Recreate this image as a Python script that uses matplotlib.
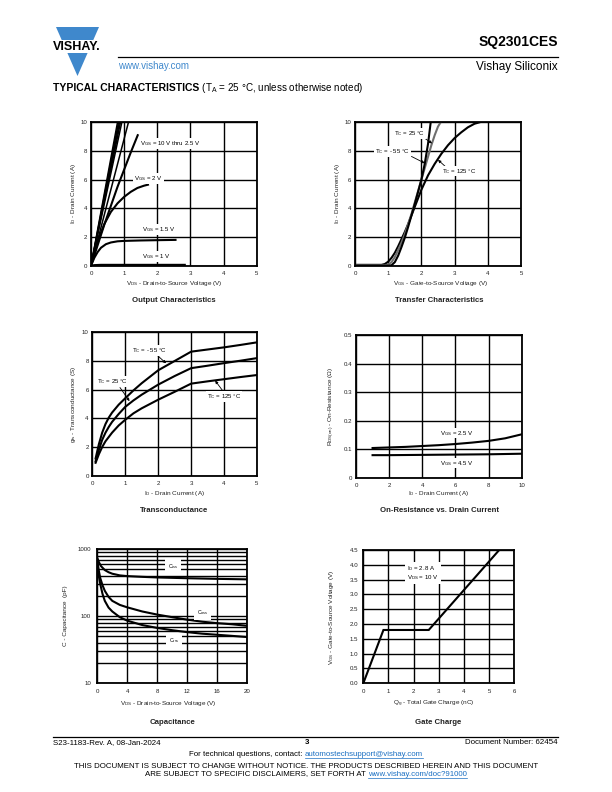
import matplotlib
matplotlib.use('Agg')
import matplotlib.pyplot as plt
from matplotlib.patches import Polygon, Rectangle
from matplotlib.lines import Line2D

plt.rcParams['font.family'] = ['Liberation Sans', 'DejaVu Sans']
plt.rcParams['mathtext.fontset'] = 'custom'
plt.rcParams['mathtext.rm'] = 'Liberation Sans'
plt.rcParams['mathtext.it'] = 'Liberation Sans:italic'
plt.rcParams['mathtext.bf'] = 'Liberation Sans:bold'
plt.rcParams['mathtext.default'] = 'regular'

# ---------------- data ----------------
# Output characteristics (VDS, ID)
out_bundle_end_x = [0.80, 0.83, 0.86, 0.89, 0.93, 1.13]   # VGS 10 V ... 3 V reach 10 A
out_bundle_end_y = [10, 10, 10, 10, 10, 10]
out_v25_x = [0, 0.4, 0.8, 1.2, 1.41]
out_v25_y = [0, 2.85, 5.5, 7.9, 9.1]
out_v2_x = [0, 0.1, 0.2, 0.4, 0.6, 0.8, 1.0, 1.2, 1.4, 1.6, 1.72]
out_v2_y = [0, 0.9, 1.7, 2.9, 3.75, 4.35, 4.8, 5.15, 5.42, 5.58, 5.65]
out_v15_x = [0, 0.1, 0.2, 0.3, 0.45, 0.6, 0.8, 1.0, 1.5, 2.0, 2.55]
out_v15_y = [0, 0.55, 0.95, 1.25, 1.5, 1.62, 1.7, 1.73, 1.76, 1.78, 1.8]
out_v1_x = [0, 0.1, 0.3, 2.83]
out_v1_y = [0, 0.04, 0.06, 0.06]

# Transfer characteristics (VGS, ID)
tr_m55_x = [0, 1.0, 1.1, 1.2, 1.3, 1.4, 1.5, 1.6, 1.7, 1.8, 1.9, 2.0, 2.1, 2.2, 2.28]
tr_m55_y = [0, 0, 0.03, 0.25, 0.7, 1.3, 1.95, 2.7, 3.5, 4.3, 5.15, 6.0, 7.1, 8.5, 10]
tr_25_x = [0, 0.9, 1.0, 1.1, 1.2, 1.3, 1.4, 1.5, 1.6, 1.7, 1.8, 1.9, 2.0, 2.1, 2.2, 2.3, 2.4, 2.5, 2.58]
tr_25_y = [0.03, 0.03, 0.08, 0.25, 0.6, 1.1, 1.6, 2.2, 2.9, 3.6, 4.4, 5.2, 6.0, 6.8, 7.6, 8.4, 9.1, 9.7, 10]
tr_125_x = [0, 0.8, 0.9, 1.0, 1.1, 1.2, 1.3, 1.4, 1.5, 1.6, 1.7, 1.8, 1.9, 2.0, 2.2, 2.4, 2.6, 2.8, 3.0, 3.2, 3.4, 3.6, 3.75]
tr_125_y = [0.06, 0.06, 0.12, 0.28, 0.55, 0.9, 1.35, 1.85, 2.35, 2.9, 3.5, 4.1, 4.7, 5.3, 6.3, 7.1, 7.8, 8.4, 8.9, 9.3, 9.65, 9.9, 10]

# Transconductance (ID, gfs)
gfs_x = [0.1, 0.2, 0.3, 0.4, 0.5, 0.6, 0.8, 1.0, 1.25, 1.5, 2.0, 2.5, 3.0, 3.5, 4.0, 4.5, 5.0]
gfs_m55 = [1.2, 2.2, 3.0, 3.6, 4.05, 4.4, 4.95, 5.4, 5.95, 6.45, 7.35, 8.0, 8.65, 8.8, 8.95, 9.12, 9.3]
gfs_25 = [1.0, 1.8, 2.5, 3.0, 3.4, 3.75, 4.3, 4.8, 5.25, 5.65, 6.35, 6.95, 7.5, 7.67, 7.85, 8.02, 8.2]
gfs_125 = [0.9, 1.5, 2.0, 2.4, 2.7, 3.0, 3.5, 3.9, 4.35, 4.7, 5.3, 5.85, 6.42, 6.58, 6.73, 6.88, 7.02]

# On-resistance (ID, RDS(on))
ron25_x = [1, 2, 3, 4, 5, 6, 7, 8, 9, 10]
ron25_y = [0.104, 0.106, 0.108, 0.111, 0.114, 0.118, 0.123, 0.129, 0.138, 0.152]
ron45_x = [1, 2, 4, 6, 8, 10]
ron45_y = [0.079, 0.079, 0.080, 0.081, 0.082, 0.084]

# Capacitance (VDS, pF)
cap_ciss_x = [0, 0.25, 0.5, 1, 1.5, 2, 3, 4, 6, 8, 10, 12, 14, 16, 18, 20]
cap_ciss_y = [740, 630, 560, 490, 455, 432, 408, 398, 388, 380, 375, 370, 366, 362, 359, 356]
cap_x = [0, 0.2, 0.4, 0.7, 1, 1.5, 2, 3, 4, 6, 8, 10, 12, 14, 16, 18, 20]
cap_coss_y = [700, 480, 370, 290, 240, 195, 170, 148, 136, 118, 106, 97, 89, 83, 79, 76, 72]
cap_crss_y = [620, 400, 300, 215, 170, 135, 118, 97, 86, 74, 67, 62, 58, 55, 53, 51, 49]

# Gate charge (Qg, VGS)
qg_x = [0, 0.8, 2.6, 5.4]
qg_y = [0, 1.8, 1.8, 4.5]

# ---------------- figure ----------------
W, H = 612, 792
fig = plt.figure(figsize=(6.12, 7.92), dpi=100)
bg = fig.add_axes([0, 0, 1, 1])
bg.set_xlim(0, W); bg.set_ylim(H, 0); bg.axis('off')

BLUE = '#3f88cc'
LINK = '#1a6fc2'
TICK_FS = 4.4
LAB_FS = 4.6
ANN_FS = 4.4
TITLE_FS = 5.6
CURVE_LW = 1.5
BOX = dict(facecolor='white', edgecolor='none', pad=0.6)


def make_ax(l, t, r, b):
    return fig.add_axes([l / W, 1 - b / H, (r - l) / W, (b - t) / H])


def style(ax, xlim, ylim, xticks, yticks, xlabels, ylabels, xpad=3.8, ypad=2.6):
    ax.set_xlim(*xlim); ax.set_ylim(*ylim)
    ax.set_xticks(xticks); ax.set_xticklabels(xlabels)
    ax.set_yticks(yticks); ax.set_yticklabels(ylabels)
    ax.grid(True, which='both', color='black', lw=1.0)
    ax.set_axisbelow(True)
    ax.tick_params(axis='both', which='both', length=0, labelsize=TICK_FS, colors='#222222')
    ax.tick_params(axis='x', pad=xpad)
    ax.tick_params(axis='y', pad=ypad)
    for s in ax.spines.values():
        s.set_linewidth(1.3)


def label(x, y, s, rot=0, size=LAB_FS, **kw):
    bg.text(x, y, s, fontsize=size, ha='center', va='center', rotation=rot, color='#222222', **kw)


# ---------------- header ----------------
bg.add_patch(Polygon([(56, 27), (99, 27), (77.5, 76)], closed=True, color=BLUE, lw=0))
bg.add_patch(Rectangle((48, 39.5), 60, 13, color='white', lw=0))
bg.text(76.5, 46.5, 'VISHAY.', fontsize=9, weight='bold', ha='center', va='center', color='black')
bg.text(558, 42, 'SQ2301CES', fontsize=10, weight='bold', ha='right', va='center')
bg.add_line(Line2D([118, 558], [57, 57], color='black', lw=0.9))
bg.text(118, 66, 'www.vishay.com', fontsize=7, color=BLUE, ha='left', va='center')
bg.text(558, 67, 'Vishay Siliconix', fontsize=8.5, ha='right', va='center')

fig.canvas.draw()
R = fig.canvas.get_renderer()


def seq(xc, y, parts, align='center'):
    texts = []
    for s, kw in parts:
        t = bg.text(0, y, s, va='center', ha='left', **kw)
        texts.append(t)
    widths = [t.get_window_extent(R).width for t in texts]
    total = sum(widths)
    x = xc - total / 2 if align == 'center' else xc
    out = []
    for t, w in zip(texts, widths):
        t.set_x(x)
        out.append((x, w))
        x += w
    return out


seq(53, 88, [('TYPICAL CHARACTERISTICS', dict(fontsize=7.5, weight='bold')),
             (' (T$_A$ = 25 °C, unless otherwise noted)', dict(fontsize=7.1))], align='left')

# ---------------- footer ----------------
bg.add_line(Line2D([53, 558], [737, 737], color='black', lw=0.9))
FS = 5.7
bg.text(53, 743, 'S23-1183-Rev. A, 08-Jan-2024', fontsize=FS, ha='left', va='center')
bg.text(307, 743, '3', fontsize=FS, weight='bold', ha='center', va='center')
bg.text(558, 743, 'Document Number: 62454', fontsize=FS, ha='right', va='center')
pos = seq(306, 754, [('For technical questions, contact: ', dict(fontsize=FS)),
                     ('automostechsupport@vishay.com', dict(fontsize=FS, color=LINK))])
bg.add_line(Line2D([pos[1][0], pos[1][0] + pos[1][1]], [757.8, 757.8], color=LINK, lw=0.5))
bg.text(306, 766, 'THIS DOCUMENT IS SUBJECT TO CHANGE WITHOUT NOTICE. THE PRODUCTS DESCRIBED HEREIN AND THIS DOCUMENT',
        fontsize=FS, ha='center', va='center')
pos = seq(306, 774, [('ARE SUBJECT TO SPECIFIC DISCLAIMERS, SET FORTH AT ', dict(fontsize=FS)),
                     ('www.vishay.com/doc?91000', dict(fontsize=FS, color=LINK))])
bg.add_line(Line2D([pos[1][0], pos[1][0] + pos[1][1]], [777.8, 777.8], color=LINK, lw=0.5))

# ---------------- 1. Output characteristics ----------------
ax = make_ax(91, 122.3, 256.7, 265.7)
style(ax, (0, 5), (0, 10), range(6), range(0, 11, 2), [str(v) for v in range(6)],
      [str(v) for v in range(0, 11, 2)])
for xe, ye in zip(out_bundle_end_x, out_bundle_end_y):
    ax.plot([0, xe], [0, ye], color='black', lw=1.1, solid_capstyle='butt')
ax.plot(out_v25_x, out_v25_y, color='black', lw=CURVE_LW)
ax.plot(out_v2_x, out_v2_y, color='black', lw=CURVE_LW)
ax.plot(out_v15_x, out_v15_y, color='black', lw=CURVE_LW)
ax.plot(out_v1_x, out_v1_y, color='black', lw=CURVE_LW)
ax.text(1.48, 8.53, 'V$_{GS}$ = 10 V thru 2.5 V', fontsize=ANN_FS, va='center', bbox=BOX, zorder=4)
ax.text(1.3, 6.09, 'V$_{GS}$ = 2 V', fontsize=ANN_FS, va='center', bbox=BOX, zorder=4)
ax.text(1.53, 2.54, 'V$_{GS}$ = 1.5 V', fontsize=ANN_FS, va='center', bbox=BOX, zorder=4)
ax.text(1.53, 0.63, 'V$_{GS}$ = 1 V', fontsize=ANN_FS, va='center', bbox=BOX, zorder=4)
label(174, 283.5, 'V$_{DS}$ - Drain-to-Source Voltage (V)')
label(73.5, 194, 'I$_D$ - Drain Current (A)', rot=90)
label(174, 301, 'Output Characteristics', size=TITLE_FS, weight='bold')

# ---------------- 2. Transfer characteristics ----------------
ax = make_ax(355, 122.3, 521, 265.7)
style(ax, (0, 5), (0, 10), range(6), range(0, 11, 2), [str(v) for v in range(6)],
      [str(v) for v in range(0, 11, 2)])
ax.plot(tr_125_x, tr_125_y, color='black', lw=CURVE_LW)
ax.plot(tr_25_x, tr_25_y, color='#6e6e6e', lw=CURVE_LW)
ax.plot(tr_m55_x, tr_m55_y, color='black', lw=CURVE_LW)
AP = dict(arrowstyle='-|>', color='black', lw=0.6, mutation_scale=4, shrinkA=0, shrinkB=0)
ax.text(1.17, 9.23, 'T$_C$ = 25 °C', fontsize=ANN_FS, va='center', bbox=BOX, zorder=4)
ax.annotate('', xy=(2.32, 8.53), xytext=(2.06, 8.95), arrowprops=AP)
ax.text(0.6, 7.95, 'T$_C$ = - 55 °C', fontsize=ANN_FS, va='center', bbox=BOX, zorder=4)
ax.annotate('', xy=(2.1, 7.15), xytext=(1.7, 7.62), arrowprops=AP)
ax.text(2.62, 6.6, 'T$_C$ = 125 °C', fontsize=ANN_FS, va='center', bbox=BOX, zorder=4)
ax.annotate('', xy=(2.5, 7.38), xytext=(2.72, 6.92), arrowprops=AP)
label(441, 283.5, 'V$_{GS}$ - Gate-to-Source Voltage (V)')
label(337, 194, 'I$_D$ - Drain Current (A)', rot=90)
label(439, 301, 'Transfer Characteristics', size=TITLE_FS, weight='bold')

# ---------------- 3. Transconductance ----------------
ax = make_ax(92.3, 332.3, 257, 475.7)
style(ax, (0, 5), (0, 10), range(6), range(0, 11, 2), [str(v) for v in range(6)],
      [str(v) for v in range(0, 11, 2)])
ax.plot(gfs_x, gfs_m55, color='black', lw=CURVE_LW)
ax.plot(gfs_x, gfs_25, color='black', lw=CURVE_LW)
ax.plot(gfs_x, gfs_125, color='black', lw=CURVE_LW)
ax.text(1.2, 8.72, 'T$_C$ = - 55 °C', fontsize=ANN_FS, va='center', bbox=BOX, zorder=4)
ax.annotate('', xy=(2.24, 7.84), xytext=(1.96, 8.42), arrowprops=AP)
ax.text(0.13, 6.56, 'T$_C$ = 25 °C', fontsize=ANN_FS, va='center', bbox=BOX, zorder=4)
ax.annotate('', xy=(1.13, 5.2), xytext=(0.84, 6.15), arrowprops=AP)
ax.text(3.48, 5.51, 'T$_C$ = 125 °C', fontsize=ANN_FS, va='center', bbox=BOX, zorder=4)
ax.annotate('', xy=(3.73, 6.63), xytext=(3.98, 5.86), arrowprops=AP)
label(174, 493.5, 'I$_D$ - Drain Current (A)')
label(73.5, 404, 'g$_{fs}$ - Transconductance (S)', rot=90)
label(174, 511, 'Transconductance', size=TITLE_FS, weight='bold')

# ---------------- 4. On-resistance ----------------
ax = make_ax(356, 335, 521.7, 477.7)
yt = [0, 0.1, 0.2, 0.3, 0.4, 0.5]
style(ax, (0, 10), (0, 0.5), range(0, 11, 2), yt, [str(v) for v in range(0, 11, 2)],
      ['0', '0.1', '0.2', '0.3', '0.4', '0.5'])
ax.plot(ron25_x, ron25_y, color='black', lw=CURVE_LW)
ax.plot(ron45_x, ron45_y, color='black', lw=CURVE_LW)
ax.text(5.07, 0.156, 'V$_{GS}$ = 2.5 V', fontsize=ANN_FS, va='center', bbox=BOX, zorder=4)
ax.text(5.07, 0.051, 'V$_{GS}$ = 4.5 V', fontsize=ANN_FS, va='center', bbox=BOX, zorder=4)
label(438, 493.5, 'I$_D$ - Drain Current (A)')
label(332, 406, 'R$_{DS(on)}$ - On-Resistance (Ω)', rot=90)
label(439, 511, 'On-Resistance vs. Drain Current', size=TITLE_FS, weight='bold')

# ---------------- 5. Capacitance ----------------
ax = make_ax(97.3, 549.3, 247.3, 683.3)
ax.set_yscale('log')
style(ax, (0, 20), (10, 1000), range(0, 21, 4), [10, 100, 1000], [str(v) for v in range(0, 21, 4)],
      ['10', '100', '1000'], ypad=4.6)
ax.set_yticks([20, 30, 40, 50, 60, 70, 80, 90, 200, 300, 400, 500, 600, 700, 800, 900], minor=True)
ax.set_yticklabels([], minor=True)
ax.grid(True, which='both', color='black', lw=1.0)
ax.plot(cap_ciss_x, cap_ciss_y, color='black', lw=CURVE_LW)
ax.plot(cap_x, cap_coss_y, color='black', lw=CURVE_LW)
ax.plot(cap_x, cap_crss_y, color='black', lw=CURVE_LW)
ax.text(9.4, 560, 'C$_{iss}$', fontsize=3.8, va='center', bbox=dict(facecolor='white', edgecolor='none', pad=2.0), zorder=4)
ax.text(13.3, 113, 'C$_{oss}$', fontsize=3.8, va='center', bbox=dict(facecolor='white', edgecolor='none', pad=2.0), zorder=4)
ax.text(9.5, 44, 'C$_{rss}$', fontsize=3.8, va='center', bbox=dict(facecolor='white', edgecolor='none', pad=2.0), zorder=4)
label(168, 703.5, 'V$_{DS}$ - Drain-to-Source Voltage (V)')
label(65, 616, 'C - Capacitance  (pF)', rot=90)
label(172, 722, 'Capacitance', size=TITLE_FS, weight='bold')

# ---------------- 6. Gate charge ----------------
ax = make_ax(363.3, 550, 514.3, 683.3)
gy = [0, 0.5, 1.0, 1.5, 2.0, 2.5, 3.0, 3.5, 4.0, 4.5]
style(ax, (0, 6), (0, 4.5), range(7), gy, [str(v) for v in range(7)],
      ['%.1f' % v for v in gy], ypad=3.6)
ax.plot(qg_x, qg_y, color='black', lw=CURVE_LW, solid_joinstyle='miter')
ax.text(1.75, 3.72, 'I$_D$ = 2.8 A\nV$_{DS}$ = 10 V', fontsize=ANN_FS, va='center', linespacing=1.1,
        bbox=dict(facecolor='white', edgecolor='none', pad=1.5), zorder=4)
label(434, 703.5, 'Q$_g$ - Total Gate Charge (nC)')
label(331, 617, 'V$_{GS}$ - Gate-to-Source Voltage (V)', rot=90)
label(438, 722, 'Gate Charge', size=TITLE_FS, weight='bold')

fig.savefig('out.png', dpi=100)
